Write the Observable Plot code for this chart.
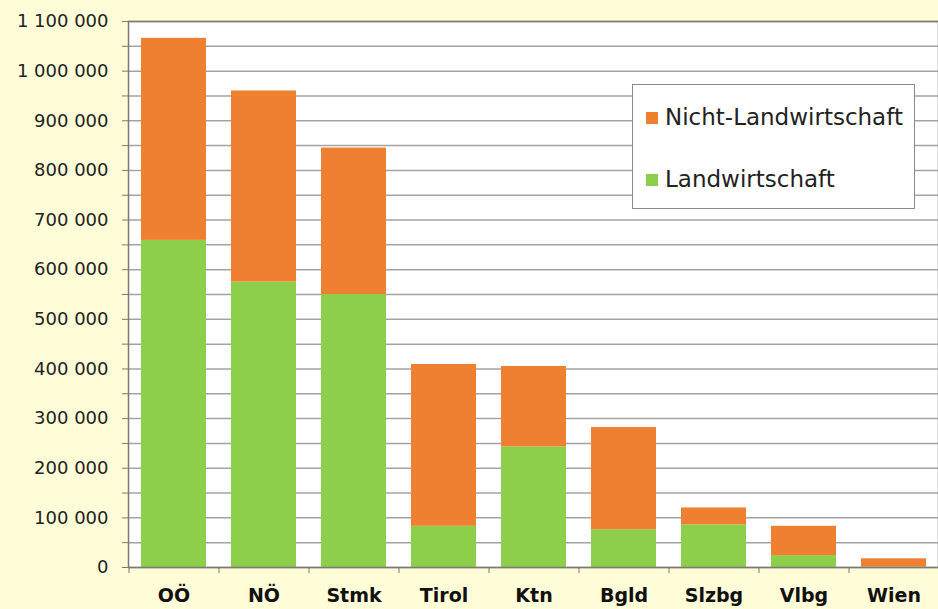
<!DOCTYPE html>
<html>
<head>
<meta charset="utf-8">
<script src="https://cdn.jsdelivr.net/npm/d3@7"></script>
<script src="https://cdn.jsdelivr.net/npm/@observablehq/plot@0.6"></script>
<style>
  html, body { margin: 0; padding: 0; background: #FFFDD8; }
  #wrap { position: relative; width: 938px; height: 609px; overflow: hidden; font-family: "DejaVu Sans", sans-serif; }
  #legend { position: absolute; left: 632px; top: 84px; width: 281px; height: 123px; background: #fff; border: 1.5px solid #8a8a8a; }
  .item { position: absolute; left: 13px; font-size: 23px; color: #222; line-height: 1; }
  .sw { display: inline-block; width: 12px; height: 12px; margin-right: 7px; vertical-align: 1px; }
</style>
</head>
<body>
<div id="wrap"></div>
<script>
const regions = ["OÖ", "NÖ", "Stmk", "Tirol", "Ktn", "Bgld", "Slzbg", "Vlbg", "Wien"];
const series = ["Landwirtschaft", "Nicht-Landwirtschaft"];
const landwirtschaft = [659000, 575000, 550000, 83000, 243000, 76000, 86000, 24000, 1000];
const nichtLandwirtschaft = [407000, 385000, 295000, 326000, 162000, 206000, 34000, 59000, 16500];
const colors = ["#8DCF4B", "#EF7F31"];
const yTicksMajor = d3.range(0, 1100001, 100000);
const yTicksMinor = d3.range(0, 1100001, 50000);

const data = [];
regions.forEach((r, i) => {
  data.push({region: r, series: series[0], value: landwirtschaft[i]});
  data.push({region: r, series: series[1], value: nichtLandwirtschaft[i]});
});

const fmt = d3.formatLocale({decimal: ",", thousands: " ", grouping: [3], currency: ["", ""]}).format(",d");
const W = 938, ML = 128, MR = 0;
const step = (W - ML - MR) / regions.length;

const chart = Plot.plot({
  width: W,
  height: 609,
  marginLeft: ML,
  marginRight: MR,
  marginTop: 21,
  marginBottom: 42,
  style: {fontFamily: "DejaVu Sans", background: "transparent", color: "#222"},
  x: {domain: regions, paddingInner: 0.28, paddingOuter: 0.14, label: null},
  y: {domain: [0, 1100000], label: null},
  color: {domain: series, range: colors},
  marks: [
    Plot.frame({fill: "white"}),
    Plot.gridY(yTicksMinor, {stroke: "#a3a3a3", strokeOpacity: 1, strokeWidth: 1.5}),
    Plot.barY(data, {x: "region", y: "value", fill: "series", order: series}),
    Plot.frame({stroke: "#7a7a70", strokeWidth: 1.5}),
    Plot.axisY(yTicksMinor, {tickSize: 6, tickFormat: () => "", stroke: "#7a7a70", label: null}),
    Plot.axisY(yTicksMajor, {tickSize: 0, tickPadding: 20, tickFormat: fmt, fontSize: 18, fill: "#222", label: null}),
    Plot.axisX({tickSize: 6, tickFormat: () => "", dx: -step / 2, stroke: "#7a7a70", label: null}),
    Plot.axisX({tickSize: 0, tickPadding: 21, fontSize: 19, fontWeight: "bold", fill: "#111", label: null})
  ]
});

const wrap = document.getElementById("wrap");
wrap.appendChild(chart);

const legend = document.createElement("div");
legend.id = "legend";
const items = [
  {label: series[1], color: colors[1], top: 21},
  {label: series[0], color: colors[0], top: 83}
];
items.forEach(it => {
  const d = document.createElement("div");
  d.className = "item";
  d.style.top = it.top + "px";
  const s = document.createElement("span");
  s.className = "sw";
  s.style.background = it.color;
  d.appendChild(s);
  d.appendChild(document.createTextNode(it.label));
  legend.appendChild(d);
});
wrap.appendChild(legend);
</script>
</body>
</html>
